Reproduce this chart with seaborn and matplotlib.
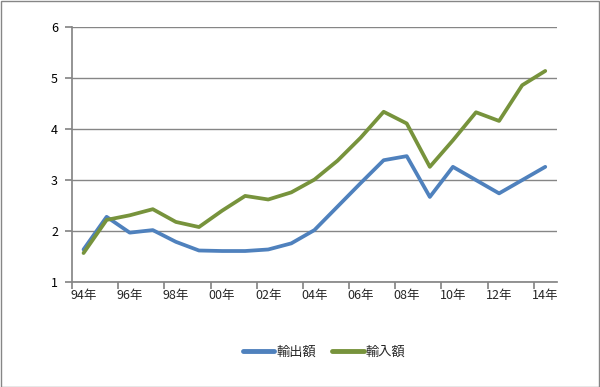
import matplotlib
matplotlib.use("Agg")
import matplotlib.pyplot as plt
import seaborn as sns
import pandas as pd
from matplotlib.patches import Rectangle

years = ["94年", "95年", "96年", "97年", "98年", "99年", "00年", "01年", "02年", "03年",
         "04年", "05年", "06年", "07年", "08年", "09年", "10年", "11年", "12年", "13年", "14年"]
exports = [1.64, 2.28, 1.97, 2.02, 1.79, 1.62, 1.61, 1.61, 1.64, 1.76,
           2.02, 2.48, 2.94, 3.39, 3.47, 2.67, 3.26, 3.00, 2.74, 3.00, 3.26]
imports = [1.57, 2.22, 2.31, 2.43, 2.18, 2.08, 2.40, 2.69, 2.62, 2.76,
           3.01, 3.38, 3.83, 4.34, 4.11, 3.26, 3.78, 4.33, 4.16, 4.86, 5.14]
series_names = ["輸出額", "輸入額"]
colors = ["#4F81BD", "#77933C"]

sns.set_theme(style="white")
plt.rcParams['font.family'] = ['Noto Sans CJK JP', 'DejaVu Sans']

df = pd.DataFrame({"idx": list(range(len(years))) * 2,
                   "value": exports + imports,
                   "series": [series_names[0]] * len(years) + [series_names[1]] * len(years)})

fig = plt.figure(figsize=(6.0, 3.87), dpi=100)
ax = fig.add_axes([0.12, 0.271, 0.808, 0.659])
sns.lineplot(data=df, x="idx", y="value", hue="series", palette=colors, linewidth=2.7,
             ax=ax, legend=True)

ax.set_xlim(-0.5, len(years) - 0.5)
ax.set_ylim(1, 6)
ax.set_yticks([1, 2, 3, 4, 5, 6])
ax.set_yticklabels(["1", "2", "3", "4", "5", "6"], fontsize=9, color="#000000")
ax.set_xticks([i + 0.5 for i in range(-1, len(years), 2)], minor=False)
ax.set_xticklabels([])
ax.set_xticks(list(range(0, len(years), 2)), minor=True)
ax.set_xticklabels(years[::2], minor=True, fontsize=9)
ax.tick_params(axis="x", which="major", length=5, color="#868686", direction="out", bottom=True)
ax.tick_params(axis="x", which="minor", length=0, pad=5)
ax.tick_params(axis="y", length=5, color="#868686", direction="out", left=True, pad=5)
ax.grid(axis="y", color="#868686", linewidth=1)
ax.set_axisbelow(True)
for s in ["top", "right"]:
    ax.spines[s].set_visible(False)
ax.spines["left"].set_color("#868686")
ax.spines["bottom"].set_color("#868686")
ax.set_xlabel("")
ax.set_ylabel("")

handles, labels = ax.get_legend_handles_labels()
for h in handles:
    h.set_linewidth(3.5)
ax.legend(handles, labels, loc="center", bbox_to_anchor=(0.54, 0.09), bbox_transform=fig.transFigure,
          ncol=2, frameon=False, fontsize=9.5, handlelength=2.4, columnspacing=1.2, handletextpad=0.15)

fig.patches.append(Rectangle((0.001, 0.001), 0.997, 0.997, transform=fig.transFigure,
                             fill=False, edgecolor="#868686", linewidth=1))
fig.savefig("out.png", dpi=100)
